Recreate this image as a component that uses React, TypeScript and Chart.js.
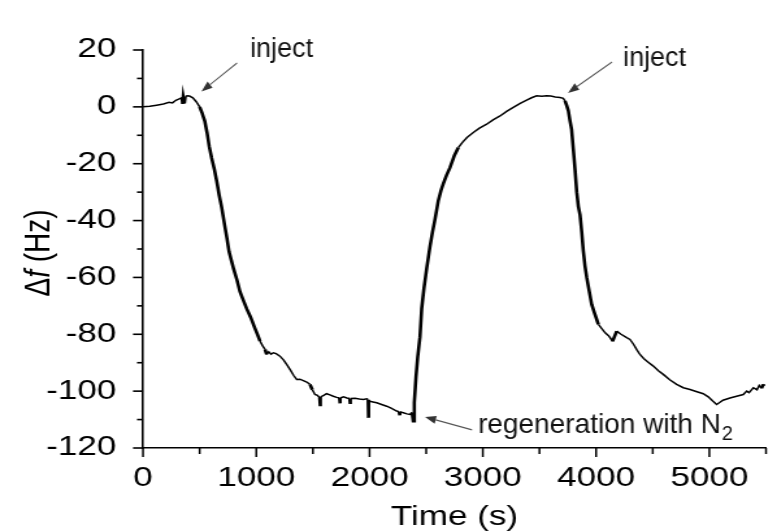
import React, { useEffect, useRef } from "react";
import { Chart, registerables } from "chart.js";

Chart.register(...registerables);

// ---------- data ----------
const timeSec = [
  0, 60, 120, 180, 230, 260, 290, 320, 345, 350, 355, 365, 372, 390, 410, 440, 470, 500, 520, 545,
  565, 585, 606, 630, 650, 672, 695, 718, 740, 760, 780, 800, 830, 856, 885, 915, 950, 989, 1010, 1033,
  1055, 1077, 1092, 1110, 1130, 1151, 1175, 1209, 1240, 1268, 1300, 1330, 1357, 1385, 1415, 1445, 1474, 1495, 1518, 1540,
  1560, 1563, 1568, 1595, 1621, 1650, 1680, 1710, 1735, 1738, 1742, 1770, 1800, 1825, 1828, 1832, 1870, 1910, 1945, 1975,
  1988, 1990, 1993, 2030, 2063, 2100, 2151, 2190, 2239, 2260, 2265, 2270, 2298, 2330, 2357, 2375, 2386, 2395, 2410, 2425,
  2445, 2460, 2481, 2505, 2534, 2556, 2578, 2607, 2630, 2651, 2680, 2710, 2750, 2784, 2820, 2860, 2916, 2970, 3034, 3090,
  3152, 3210, 3269, 3330, 3387, 3430, 3475, 3520, 3564, 3600, 3640, 3681, 3710, 3725, 3740, 3755, 3770, 3784, 3799, 3814,
  3829, 3843, 3858, 3873, 3887, 3902, 3917, 3940, 3961, 3990, 4020, 4050, 4080, 4110, 4123, 4145, 4182, 4220, 4270, 4299,
  4330, 4360, 4387, 4420, 4460, 4505, 4550, 4593, 4650, 4711, 4770, 4829, 4890, 4946, 4990, 5030, 5064, 5090, 5120, 5182,
  5240, 5299, 5330, 5350, 5388, 5420, 5440, 5460, 5476, 5490,
];

const deltaF = [
  0, 0.2, 0.6, 1.0, 1.6, 1.4, 2.3, 2.8, 3.2, 1.0, 3.4, 1.2, 3.6, 3.9, 3.8, 3.2, 1.8, 0, -2, -5,
  -9, -14, -18, -22, -26, -31, -35.5, -41, -46, -51, -54, -57, -61, -65, -68, -71, -74, -78, -80, -82.4,
  -84, -85.3, -87.1, -86.2, -87, -86.5, -86.8, -87.7, -89, -90.6, -92.5, -94.5, -95.9, -95.8, -96.3, -96.8, -97.6, -99.5, -101.2, -101.5,
  -102.4, -105.3, -102, -101.5, -100.9, -101.3, -101.8, -102.2, -102.4, -104.3, -102.4, -102, -102.4, -102.6, -104.5, -102.6, -102.5, -102.8, -102.9, -102.7,
  -103, -109.4, -103.5, -103.8, -104.1, -104.6, -105.3, -106, -107, -107.2, -108.5, -107.3, -107.6, -108, -108.2, -107.5, -110.6, -104, -95, -88,
  -81, -71, -63.6, -56.6, -49, -44, -39.5, -33, -29.5, -27, -24, -21.4, -17, -14.3, -12.5, -10.8, -9, -7.5, -6.1, -4.6,
  -3.2, -1.6, -0.2, 1.2, 2.4, 3.2, 3.9, 3.7, 3.9, 3.8, 3.5, 3.3, 3.0, 2.1, 0.5, -1.4, -5, -8, -15, -22,
  -30, -35, -38, -44, -50.7, -56, -60, -65, -69.5, -73, -76.5, -78, -79.5, -80.5, -81.2, -82.5, -78.9, -80, -81.2, -81.8,
  -83.5, -85.5, -87.1, -88.5, -89.8, -91.2, -92.8, -94.1, -96, -97.6, -98.8, -99.4, -100.2, -100.9, -102, -103.5, -104.7, -104, -103.2, -102.4,
  -101.8, -101.2, -100, -100.5, -98.8, -99.5, -98, -99, -97.6, -98,
];

const xRange = [0, 5500];
const yRange = [-120, 20];
const xTickLabels = ["0", "1000", "2000", "3000", "4000", "5000"];
const yTickLabels = ["20", "0", "-20", "-40", "-60", "-80", "-100", "-120"];
const xTitle = "Time (s)";
const yTitleParts = ["Δ", "f", " (Hz)"];

// annotation anchors in data units: text position, arrow tail, arrow head
const annotationTexts = ["inject", "inject", "regeneration with N"];
const annotationSubs = ["", "", "2"];
const annotationTextAt = [[945, 17.7], [4238, 14.4], [2958, -114.6]];
const annotationTail = [[830, 15.4], [4141, 15.8], [2905, -113.6]];
const annotationHead = [[516, 5.4], [3752, 4.9], [2490, -109.1]];

// ---------- layout ----------
const W = 777;
const H = 531;
const CW = 598; // internal canvas width; stretched horizontally to W
const FONT = "'Liberation Sans', Arial, Helvetica, sans-serif";

export default function App() {
  const ref = useRef<HTMLCanvasElement>(null);

  useEffect(() => {
    const canvas = ref.current!;
    const S = W / CW;

    const decor = {
      id: "decor",
      afterDraw(chart: any) {
        const ctx = chart.ctx as CanvasRenderingContext2D;
        const xs = chart.scales.x;
        const ys = chart.scales.y;
        const ca = chart.chartArea;
        ctx.save();
        ctx.strokeStyle = "#000";
        // y ticks (outward, left)
        ctx.lineWidth = 1.6;
        for (let v = yRange[0]; v <= yRange[1]; v += 10) {
          const y = ys.getPixelForValue(v);
          const major = v % 20 === 0;
          const len = (major ? 10 : 6) / S;
          ctx.beginPath();
          ctx.moveTo(ca.left, y);
          ctx.lineTo(ca.left - len, y);
          ctx.stroke();
        }
        // x ticks (outward, down)
        ctx.lineWidth = 1.5;
        for (let t = xRange[0]; t <= xRange[1]; t += 500) {
          const x = xs.getPixelForValue(t);
          const major = t % 1000 === 0;
          const len = major ? 9 : 6;
          ctx.beginPath();
          ctx.moveTo(x, ca.bottom);
          ctx.lineTo(x, ca.bottom + len);
          ctx.stroke();
        }
        // y title with italic f
        const fs = 28;
        const fonts = [`${fs}px ${FONT}`, `italic ${fs}px ${FONT}`, `${fs}px ${FONT}`];
        let total = 0;
        const widths: number[] = [];
        yTitleParts.forEach((p, i) => {
          ctx.font = fonts[i];
          const w = ctx.measureText(p).width;
          widths.push(w);
          total += w;
        });
        ctx.save();
        ctx.translate(39 / S, (ca.top + ca.bottom) / 2 + 4);
        ctx.rotate(-Math.PI / 2);
        ctx.fillStyle = "#000";
        ctx.textBaseline = "middle";
        ctx.textAlign = "left";
        let px = -total / 2;
        yTitleParts.forEach((p, i) => {
          ctx.font = fonts[i];
          ctx.fillText(p, px, 0);
          px += widths[i];
        });
        ctx.restore();

        // annotations, drawn without the horizontal stretch
        ctx.save();
        ctx.scale(1 / S, 1);
        for (let i = 0; i < annotationTexts.length; i++) {
          const hx = xs.getPixelForValue(annotationHead[i][0]) * S;
          const hy = ys.getPixelForValue(annotationHead[i][1]);
          const tx = xs.getPixelForValue(annotationTail[i][0]) * S;
          const ty = ys.getPixelForValue(annotationTail[i][1]);
          const ang = Math.atan2(hy - ty, hx - tx);
          const hl = 11;
          const hw = 4;
          const bx = hx - hl * Math.cos(ang);
          const by = hy - hl * Math.sin(ang);
          ctx.strokeStyle = "#555";
          ctx.lineWidth = 1.2;
          ctx.beginPath();
          ctx.moveTo(tx, ty);
          ctx.lineTo(bx, by);
          ctx.stroke();
          ctx.fillStyle = "#333";
          ctx.beginPath();
          ctx.moveTo(hx, hy);
          ctx.lineTo(bx + hw * Math.sin(ang), by - hw * Math.cos(ang));
          ctx.lineTo(bx - hw * Math.sin(ang), by + hw * Math.cos(ang));
          ctx.closePath();
          ctx.fill();

          const lx = xs.getPixelForValue(annotationTextAt[i][0]) * S;
          const ly = ys.getPixelForValue(annotationTextAt[i][1]);
          const size = annotationSubs[i] ? 28 : 27;
          ctx.fillStyle = "#111";
          ctx.textBaseline = "alphabetic";
          ctx.textAlign = "left";
          ctx.font = `${size}px ${FONT}`;
          ctx.fillText(annotationTexts[i], lx, ly);
          if (annotationSubs[i]) {
            const w = ctx.measureText(annotationTexts[i]).width;
            ctx.font = `${Math.round(size * 0.7)}px ${FONT}`;
            ctx.fillText(annotationSubs[i], lx + w + 1, ly + 7);
          }
        }
        ctx.restore();
        ctx.restore();
      },
    };

    const chart = new Chart(canvas, {
      type: "line",
      data: {
        datasets: [
          {
            data: timeSec.map((t, i) => ({ x: t, y: deltaF[i] })),
            borderColor: "#000",
            borderWidth: 1.5,
            pointRadius: 0,
            tension: 0,
            fill: false,
            segment: {
              borderWidth: (c: any) => {
                const dx = Math.abs(c.p1.x - c.p0.x);
                const dy = Math.abs(c.p1.y - c.p0.y);
                return dy > 2.5 * dx ? 2.6 : 1.5;
              },
            },
          } as any,
        ],
      },
      options: {
        responsive: false,
        animation: false,
        devicePixelRatio: 1,
        layout: { padding: { top: 50, right: CW - 766 / S, left: 0, bottom: 0 } },
        plugins: { legend: { display: false }, tooltip: { enabled: false } },
        scales: {
          x: {
            type: "linear",
            min: xRange[0],
            max: xRange[1],
            grid: { display: false },
            border: { display: true, color: "#000", width: 1.6 },
            ticks: {
              stepSize: 500,
              autoSkip: false,
              maxRotation: 0,
              padding: 6,
              color: "#000",
              font: { family: FONT, size: 27 },
              callback: (v: any) => {
                const s = String(v);
                return Number(v) % 1000 === 0 && xTickLabels.includes(s) ? s : "";
              },
            },
            title: {
              display: true,
              text: xTitle,
              color: "#000",
              font: { family: FONT, size: 27, lineHeight: 1 },
              padding: { top: 0, bottom: 0 },
            },
            afterFit: (s: any) => {
              s.height = H - 448;
            },
          },
          y: {
            type: "linear",
            min: yRange[0],
            max: yRange[1],
            grid: { display: false },
            border: { display: true, color: "#000", width: 1.6 },
            ticks: {
              stepSize: 10,
              autoSkip: false,
              padding: 12.5,
              color: "#000",
              font: { family: FONT, size: 27 },
              callback: (v: any) => {
                const s = String(v);
                return Number(v) % 20 === 0 && yTickLabels.includes(s) ? s : "";
              },
            },
            afterFit: (s: any) => {
              s.width = 143 / S;
            },
          },
        },
      },
      plugins: [decor],
    });
    return () => chart.destroy();
  }, []);

  return (
    <div style={{ position: "absolute", left: 0, top: 0, width: W, height: H, background: "#fff" }}>
      <canvas
        ref={ref}
        width={CW}
        height={H}
        style={{ width: `${W}px`, height: `${H}px`, display: "block" }}
      />
    </div>
  );
}
